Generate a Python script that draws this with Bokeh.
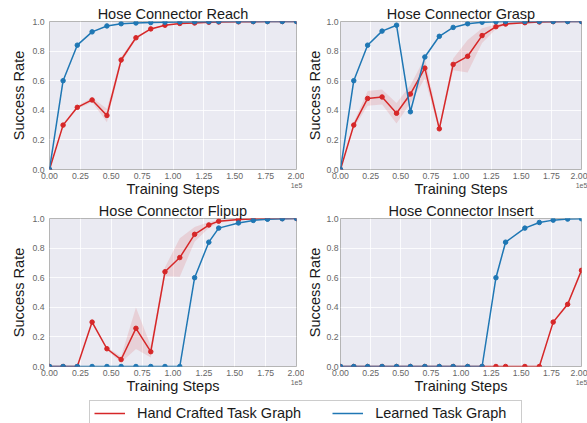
from bokeh.plotting import figure
from bokeh.layouts import column, row
from bokeh.models import (Range1d, FixedTicker, CustomJSTickFormatter, PrintfTickFormatter,
                          LinearAxis, Legend, LegendItem, ColumnDataSource)
from bokeh.embed import file_html
from bokeh.resources import INLINE

# ---------------- data ----------------
steps = [0, 11000, 22500, 34500, 46500, 58000, 70000, 82000, 93500, 105500,
         117500, 129000, 137000, 153000, 165000, 176500, 188500, 200000]

reach_learned = [0, 0.60, 0.84, 0.93, 0.97, 0.985, 0.99, 0.993, 0.995, 0.997,
                 0.998, 0.999, 1.0, 1.0, 1.0, 1.0, 1.0, 1.0]
reach_hand = [0, 0.30, 0.42, 0.47, 0.365, 0.74, 0.89, 0.95, 0.975, 0.987,
              0.99, 0.995, 0.997, 0.998, 0.999, 1.0, 1.0, 1.0]
reach_hand_sd = [0, 0.01, 0.01, 0.015, 0.045, 0.02, 0.01, 0.005, 0.003, 0.002,
                 0.001, 0, 0, 0, 0, 0, 0, 0]

grasp_learned = [0, 0.60, 0.84, 0.935, 0.975, 0.39, 0.76, 0.90, 0.96, 0.985,
                 0.995, 0.998, 1.0, 1.0, 1.0, 1.0, 1.0, 1.0]
grasp_hand = [0, 0.30, 0.48, 0.49, 0.38, 0.51, 0.685, 0.275, 0.71, 0.765,
              0.905, 0.965, 0.983, 0.992, 0.997, 0.999, 1.0, 1.0]
grasp_hand_sd = [0, 0.02, 0.05, 0.05, 0.07, 0.06, 0.07, 0.02, 0.04, 0.11,
                 0.05, 0.015, 0.008, 0.004, 0.002, 0, 0, 0]

flipup_learned = [0, 0, 0, 0, 0, 0, 0, 0, 0, 0,
                  0.60, 0.84, 0.935, 0.97, 0.987, 0.995, 0.998, 1.0]
flipup_hand = [0, 0, 0, 0.30, 0.12, 0.047, 0.258, 0.10, 0.64, 0.736,
               0.893, 0.956, 0.982, 0.993, 0.997, 0.999, 1.0, 1.0]
flipup_hand_sd = [0, 0, 0, 0.01, 0.01, 0.02, 0.14, 0.04, 0.03, 0.13,
                  0.05, 0.02, 0.01, 0.005, 0.003, 0, 0, 0]

insert_learned = [0, 0, 0, 0, 0, 0, 0, 0, 0, 0,
                  0, 0.60, 0.84, 0.935, 0.973, 0.989, 0.996, 0.998]
insert_hand = [0, 0, 0, 0, 0, 0, 0, 0, 0, 0,
               0, 0, 0, 0, 0, 0.30, 0.42, 0.65]
insert_hand_sd = [0, 0, 0, 0, 0, 0, 0, 0, 0, 0,
                  0, 0, 0, 0, 0, 0.01, 0.01, 0.02]

titles = ["Hose Connector Reach", "Hose Connector Grasp",
          "Hose Connector Flipup", "Hose Connector Insert"]
x_ticks = [0, 25000, 50000, 75000, 100000, 125000, 150000, 175000, 200000]
y_ticks = [0, 0.2, 0.4, 0.6, 0.8, 1.0]
legend_labels = ["Hand Crafted Task Graph", "Learned Task Graph"]
x_scale_text = "1e5"

RED = "#d62728"
BLUE = "#1f77b4"
FONT = "Liberation Sans"
BIG = "14.5px"


def panel(title, learned, hand, hand_sd, width, height, bl, br, bt, bb, ys1, ys2):
    p = figure(width=width, height=height, min_border_left=bl, min_border_right=br,
               min_border_top=bt, min_border_bottom=bb,
               x_range=Range1d(0, 200000), y_range=Range1d(0, 1.0),
               output_backend="svg", toolbar_location=None, title=title)
    p.background_fill_color = "#eaeaf2"
    p.border_fill_color = "white"
    p.outline_line_color = "#b5b5b5"
    p.outline_line_width = 1
    p.title.text_font = FONT
    p.title.text_font_size = BIG
    p.title.text_font_style = "normal"
    p.title.text_color = "#1a1a1a"
    p.title.align = "center"
    p.title.standoff = 0

    src = ColumnDataSource(dict(
        x=steps, hand=hand, learned=learned,
        lo=[max(0, h - s) for h, s in zip(hand, hand_sd)],
        hi=[min(1, h + s) for h, s in zip(hand, hand_sd)]))
    p.varea(x="x", y1="lo", y2="hi", source=src, fill_color=RED, fill_alpha=0.13)
    p.line(x="x", y="hand", source=src, line_color=RED, line_width=1.5)
    p.scatter(x="x", y="hand", source=src, size=4.5, fill_color=RED, line_color=RED)
    p.line(x="x", y="learned", source=src, line_color=BLUE, line_width=1.5)
    p.scatter(x="x", y="learned", source=src, size=4.5, fill_color=BLUE, line_color=BLUE)

    p.xaxis.ticker = FixedTicker(ticks=x_ticks)
    p.xaxis.formatter = CustomJSTickFormatter(code="return (tick/1e5).toFixed(2)")
    p.yaxis.ticker = FixedTicker(ticks=y_ticks)
    p.yaxis.formatter = PrintfTickFormatter(format="%.1f")
    p.xaxis.axis_label = "Training Steps"
    p.yaxis.axis_label = "Success Rate"
    for ax in (p.xaxis, p.yaxis):
        ax.axis_line_color = None
        ax.major_tick_in = 0
        ax.major_tick_out = 0
        ax.minor_tick_line_color = None
        ax.major_label_text_font = FONT
        ax.major_label_text_font_size = "8.7px"
        ax.major_label_text_color = "#666666"
        ax.axis_label_text_font = FONT
        ax.axis_label_text_font_size = BIG
        ax.axis_label_text_font_style = "normal"
        ax.axis_label_text_color = "#1a1a1a"
    p.xaxis.major_label_standoff = 3
    p.xaxis.axis_label_standoff = -1
    p.yaxis.major_label_standoff = ys1
    p.yaxis.axis_label_standoff = ys2
    p.grid.grid_line_color = "white"
    p.grid.grid_line_alpha = 0.8
    p.grid.grid_line_width = 1

    # offset text "1e5" under the right end of the x axis
    sci = LinearAxis(ticker=FixedTicker(ticks=[]),
                     axis_label=x_scale_text, axis_label_standoff=-17,
                     axis_label_align="end",
                     axis_label_text_font=FONT, axis_label_text_font_size="7px",
                     axis_label_text_font_style="normal", axis_label_text_color="#666666",
                     major_label_standoff=0, major_tick_in=0, major_tick_out=0,
                     minor_tick_line_color=None, axis_line_color=None)
    p.add_layout(sci, "below")
    return p


p1 = panel(titles[0], reach_learned, reach_hand, reach_hand_sd, 304, 199, 49, 8, 21, 30, 5, 2)
p2 = panel(titles[1], grasp_learned, grasp_hand, grasp_hand_sd, 283, 199, 31, 6, 21, 30, 2, 0)
p3 = panel(titles[2], flipup_learned, flipup_hand, flipup_hand_sd, 304, 197, 49, 8, 19, 30, 5, 2)
p4 = panel(titles[3], insert_learned, insert_hand, insert_hand_sd, 283, 197, 31, 6, 19, 30, 2, 0)

# legend strip
lg = figure(width=587, height=27, min_border=0, x_range=Range1d(0, 1), y_range=Range1d(0, 1),
            output_backend="svg", toolbar_location=None,
            x_axis_location=None, y_axis_location=None)
lg.grid.visible = False
lg.outline_line_color = None
lg.background_fill_color = "white"
r_red = lg.line(x=[-10, -9], y=[-10, -9], line_color=RED, line_width=1.5)
r_blue = lg.line(x=[-10, -9], y=[-10, -9], line_color=BLUE, line_width=1.5)
legend = Legend(items=[LegendItem(label=legend_labels[0], renderers=[r_red]),
                       LegendItem(label=legend_labels[1], renderers=[r_blue])],
                orientation="horizontal", location=(89, -3),
                padding=4, spacing=31, label_standoff=12, glyph_width=31,
                glyph_height=16, label_height=16, label_width=142, margin=0,
                label_text_font=FONT, label_text_font_size=BIG,
                label_text_color="#1a1a1a", border_line_color="#999999",
                border_line_width=1, background_fill_color="white",
                background_fill_alpha=1.0)
lg.add_layout(legend, "center")

layout = column(row(p1, p2), row(p3, p4), lg)
open("out.html", "w").write(file_html(layout, INLINE))
